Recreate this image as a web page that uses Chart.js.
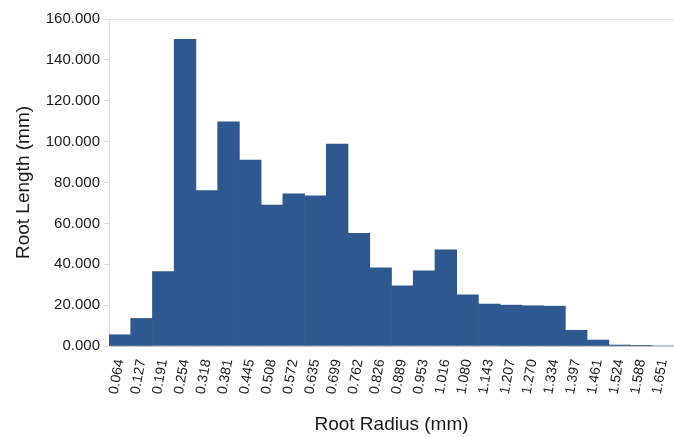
<!DOCTYPE html>
<html>
<head>
<meta charset="utf-8">
<script src="https://cdn.jsdelivr.net/npm/chart.js@4"></script>
<style>
  html, body { margin: 0; padding: 0; background: #fff; overflow: hidden; }
  #wrap { width: 674px; height: 437px; }
</style>
</head>
<body>
<div id="wrap"><canvas id="chart" width="674" height="437"></canvas></div>
<script>
// Root radius classes (mm)
const radiusLabels = ['0.064', '0.127', '0.191', '0.254', '0.318', '0.381', '0.445', '0.508', '0.572',
    '0.635', '0.699', '0.762', '0.826', '0.889', '0.953', '1.016', '1.080', '1.143', '1.207',
    '1.270', '1.334', '1.397', '1.461', '1.524', '1.588', '1.651'];

// Root length per class (mm)
const rootLength = [5.5, 13.5, 36.4, 150.0, 76.0, 109.7, 91.0, 69.0, 74.4,
    73.5, 98.8, 55.1, 38.3, 29.4, 36.8, 47.0, 25.0, 20.5, 20.0,
    19.7, 19.5, 7.7, 2.9, 0.5, 0.1, 0];

const yTicks = [0, 20, 40, 60, 80, 100, 120, 140, 160];

const textColor = '#1a1a1a';
const barColor = '#2f5890';

Chart.defaults.font.family = '"Liberation Sans", Arial, sans-serif';
Chart.defaults.color = textColor;

const ctx = document.getElementById('chart').getContext('2d');
new Chart(ctx, {
    type: 'bar',
    data: {
        labels: radiusLabels,
        datasets: [{
            data: rootLength,
            backgroundColor: barColor,
            borderWidth: 0,
            categoryPercentage: 1.0,
            barPercentage: 1.0
        }]
    },
    options: {
        responsive: false,
        animation: false,
        layout: { padding: { top: 19, right: 0, left: 0, bottom: 0 } },
        plugins: {
            legend: { display: false },
            tooltip: { enabled: false }
        },
        scales: {
            x: {
                afterFit: function(axis) {
                    axis.height = 91;
                    axis.paddingRight = 0;
                    axis.paddingLeft = 0;
                },
                grid: { display: false },
                border: { color: '#c4c4c4', width: 1 },
                ticks: {
                    minRotation: 80,
                    maxRotation: 80,
                    autoSkip: false,
                    font: { size: 14 },
                    color: textColor,
                    padding: 4
                },
                title: {
                    display: true,
                    text: 'Root Radius (mm)',
                    font: { size: 19 },
                    color: textColor,
                    padding: { top: 0, bottom: 1 }
                }
            },
            y: {
                min: 0,
                max: 160,
                afterFit: function(axis) { axis.width = 109; },
                afterBuildTicks: function(axis) {
                    axis.ticks = yTicks.map(v => ({ value: v }));
                },
                grid: {
                    color: function(c) { return c.tick && c.tick.value === 160 ? '#e2e2e2' : 'rgba(0,0,0,0)'; },
                    tickColor: '#dcdcdc',
                    tickLength: 5
                },
                border: { color: '#e0e0e0', width: 1 },
                ticks: {
                    font: { size: 15 },
                    color: textColor,
                    padding: 4,
                    callback: function(value) { return Number(value).toFixed(3); }
                },
                title: {
                    display: true,
                    text: 'Root Length (mm)',
                    font: { size: 19 },
                    color: textColor,
                    padding: { top: 12, bottom: 0 }
                }
            }
        }
    }
});
</script>
</body>
</html>
